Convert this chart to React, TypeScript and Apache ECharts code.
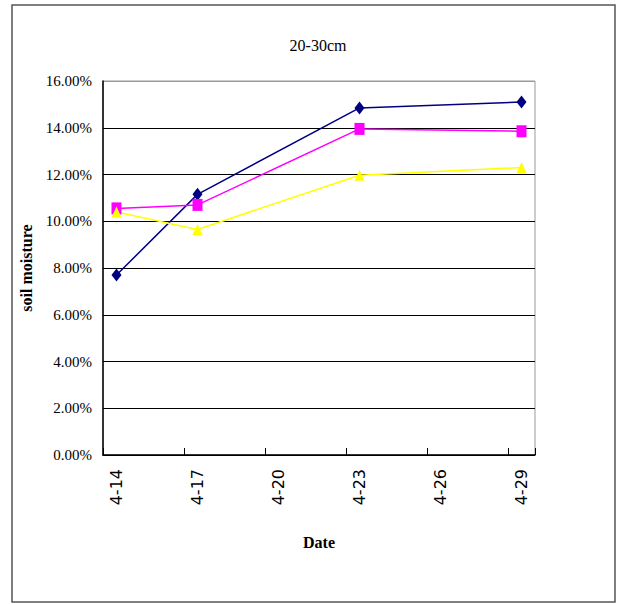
import React, { useEffect, useRef } from "react";
import * as echarts from "echarts";

const dates = ["4-14","4-15","4-16","4-17","4-18","4-19","4-20","4-21","4-22","4-23","4-24","4-25","4-26","4-27","4-28","4-29"];
const sampleDates = ["4-14", "4-17", "4-23", "4-29"];
const seriesBlue = [7.7, 11.15, 14.85, 15.1];
const seriesPink = [10.55, 10.7, 13.95, 13.85];
const seriesYellow = [10.4, 9.65, 11.97, 12.3];
const yTicks = [0, 2, 4, 6, 8, 10, 12, 14, 16];

const pair = (vals: number[]) => sampleDates.map((d, i) => [d, vals[i]]);

export default function App() {
  const ref = useRef<HTMLDivElement>(null);
  useEffect(() => {
    const chart = echarts.init(ref.current!, null, { renderer: "svg" });
    const serif = "'Liberation Serif', 'Times New Roman', serif";
    chart.setOption({
      animation: false,
      backgroundColor: "#fff",
      title: {
        text: "20-30cm",
        left: 313,
        textAlign: "center",
        top: 32,
        textStyle: { fontFamily: serif, fontSize: 16, fontWeight: "normal", color: "#000" },
      },
      graphic: [
        {
          type: "rect",
          shape: { x: 12, y: 5, width: 603, height: 597 },
          style: { fill: "none", stroke: "#555", lineWidth: 1.5 },
          silent: true,
        },
      ],
      grid: {
        left: 103,
        top: 81,
        right: 86,
        bottom: 149,
        show: true,
        borderColor: "#999",
        borderWidth: 1,
        backgroundColor: "#fff",
      },
      xAxis: {
        type: "category",
        data: dates,
        boundaryGap: true,
        name: "Date",
        nameLocation: "middle",
        nameGap: 79,
        nameTextStyle: { fontFamily: serif, fontSize: 16, fontWeight: "bold", color: "#000" },
        axisLine: { lineStyle: { color: "#000", width: 1.5 } },
        axisTick: { show: true, inside: true, length: 7, interval: 2, alignWithLabel: false, lineStyle: { color: "#000" } },
        axisLabel: {
          interval: 2,
          rotate: 90,
          margin: 14,
          fontFamily: "'DejaVu Sans', sans-serif",
          fontSize: 16,
          color: "#000",
        },
        splitLine: { show: false },
      },
      yAxis: {
        type: "value",
        min: 0,
        max: 16,
        interval: 2,
        name: "soil moisture",
        nameLocation: "middle",
        nameGap: 68,
        nameTextStyle: { fontFamily: serif, fontSize: 16, fontWeight: "bold", color: "#000" },
        axisLine: { show: true, lineStyle: { color: "#000", width: 1.5 } },
        axisTick: { show: false },
        axisLabel: {
          margin: 11,
          fontFamily: serif,
          fontSize: 15,
          color: "#000",
          formatter: (v: number) => (yTicks.includes(v) ? v.toFixed(2) + "%" : ""),
        },
        splitLine: {
          show: true,
          lineStyle: { color: ["#000", "#000", "#000", "#000", "#000", "#000", "#000", "#000", "#999"], width: 1.2 },
        },
      },
      series: [
        {
          type: "line",
          data: pair(seriesBlue),
          symbol: "diamond",
          symbolSize: [10, 13],
          lineStyle: { color: "#000080", width: 1.5 },
          itemStyle: { color: "#000080" },
          connectNulls: true,
        },
        {
          type: "line",
          data: pair(seriesPink),
          symbol: "rect",
          symbolSize: [10, 12],
          lineStyle: { color: "#FF00FF", width: 1.5 },
          itemStyle: { color: "#FF00FF" },
          connectNulls: true,
        },
        {
          type: "line",
          data: pair(seriesYellow),
          symbol: "triangle",
          symbolSize: [10, 11],
          lineStyle: { color: "#FFFF00", width: 1.5 },
          itemStyle: { color: "#FFFF00" },
          connectNulls: true,
        },
      ],
    });
    return () => chart.dispose();
  }, []);
  return <div ref={ref} style={{ position: "absolute", left: 0, top: 0, width: 621, height: 604 }} />;
}
